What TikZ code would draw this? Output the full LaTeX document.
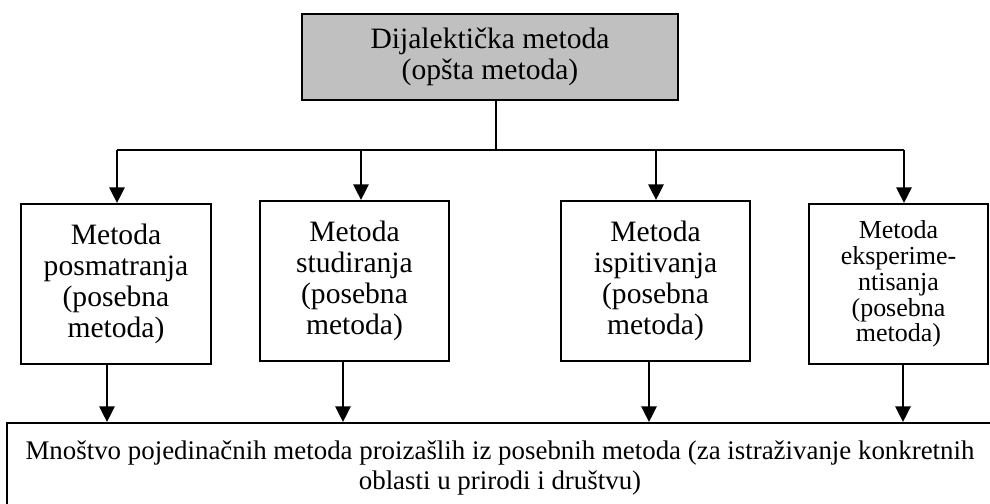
\documentclass[tikz,border=0pt]{standalone}
\usepackage{fontspec}
\setmainfont{Liberation Serif}
\usetikzlibrary{arrows.meta, positioning}
\definecolor{boxgray}{RGB}{192, 192, 192}
\newdimen\pxu
\pxu=0.4464pt

\begin{document}
\begin{tikzpicture}[
  x=\pxu, y=-\pxu,
  box/.style={draw, line width=0.9pt, align=center, inner sep=0pt, font=\fontsize{13.2}{13.8}\selectfont},
  midbox/.style={box, minimum width=189\pxu, minimum height=160\pxu},
  arr/.style={-{Triangle[length=7pt, width=6.8pt]}, line width=1.1pt},
  link/.style={line width=0.9pt}
]
  \clip (0,0) rectangle (990,503);

  % General method
  \node[box, fill=boxgray, minimum width=376\pxu, minimum height=86\pxu] (dial) at (490,57) {Dijalektička metoda\\(opšta metoda)};

  % Special methods
  \node[midbox, minimum width=190\pxu] (posm) at (116,284) {Metoda\\posmatranja\\(posebna\\metoda)};
  \node[midbox] (stud) at (354.5,281) {Metoda\\studiranja\\(posebna\\metoda)};
  \node[midbox] (ispit) at (655.5,281) {Metoda\\ispitivanja\\(posebna\\metoda)};
  \node[midbox, minimum width=179\pxu, font=\fontsize{11.6}{11.5}\selectfont] (eksp) at (898.5,284) {Metoda\\eksperime-\\ntisanja\\(posebna\\metoda)};

  % Individual methods
  \node[box, minimum width=986\pxu, minimum height=90\pxu, font=\fontsize{12}{13.8}\selectfont] (mnost) at (500,468) {Mnoštvo pojedinačnih metoda proizašlih iz posebnih metoda (za istraživanje konkretnih\\oblasti u prirodi i društvu)};

  % Branching bar
  \coordinate (split) at (496,150);
  \coordinate (t1) at (117,150);
  \coordinate (t2) at (361,150);
  \coordinate (t3) at (656,150);
  \coordinate (t4) at (904,150);
  \draw[link] (dial.south -| split) -- (split);
  \draw[link] (t1) -- (t4);

  \draw[arr] (t1) -- (t1 |- posm.north);
  \draw[arr] (t2) -- (t2 |- stud.north);
  \draw[arr] (t3) -- (t3 |- ispit.north);
  \draw[arr] (t4) -- (t4 |- eksp.north);

  % Down to the bottom box
  \coordinate (b1) at (107,0);
  \coordinate (b2) at (343,0);
  \coordinate (b3) at (649,0);
  \coordinate (b4) at (903,0);
  \draw[arr] (b1 |- posm.south) -- (b1 |- mnost.north);
  \draw[arr] (b2 |- stud.south) -- (b2 |- mnost.north);
  \draw[arr] (b3 |- ispit.south) -- (b3 |- mnost.north);
  \draw[arr] (b4 |- eksp.south) -- (b4 |- mnost.north);
\end{tikzpicture}
\end{document}
